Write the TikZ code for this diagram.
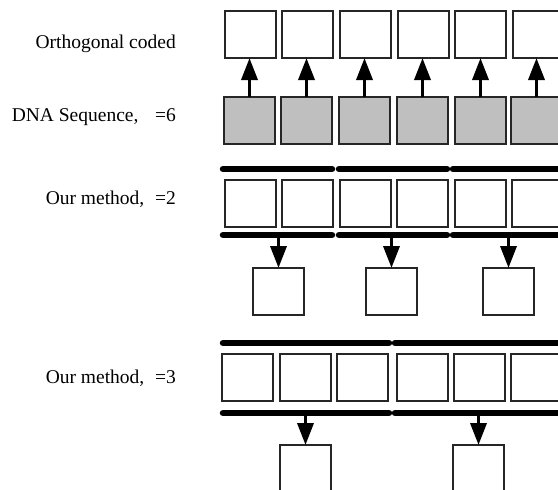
\documentclass[tikz,border=0pt]{standalone}
\usepackage{fontspec}
\setmainfont{Liberation Serif}
\usetikzlibrary{arrows.meta}
\tikzset{
  box/.style={draw=black!85, line width=1.1pt, minimum width=51pt, minimum height=47pt, inner sep=0pt, outer sep=0pt, anchor=north west},
  wbox/.style={box, fill=white},
  gbox/.style={box, fill=black!25},
  bar/.style={line width=6.5pt, line cap=round, black},
  uparrow/.style={line width=3.5pt, -{Triangle[length=22pt,width=16pt]}},
  lab/.style={anchor=base east, inner sep=0pt, font=\fontsize{19.5pt}{22pt}\selectfont}
}
\begin{document}
\begin{tikzpicture}[x=1pt,y=-1pt]
\useasboundingbox (0,0) rectangle (558,490);
% labels
\node[lab] (t1) at (176,48) {Orthogonal coded};
\node[lab] (t2) at (176,121) {DNA Sequence,\hspace{0.85em}=6};
\node[lab] (t3) at (176,204) {Our method,\hspace{0.55em}=2};
\node[lab] (t4) at (176,383) {Our method,\hspace{0.55em}=3};
% row 1 and 2
\foreach \i/\x/\g in {1/225/224,2/282/281,3/340/339,4/398/397,5/455/455,6/513/511}{
  \node[wbox] (o\i) at (\x,11) {};
  \node[gbox] (g\i) at (\g,97) {};
  \draw[uparrow] (g\i.north) -- (g\i.north |- o\i.south);
}
% row 3
\foreach \i/\x in {1/225,2/282,3/340,4/397,5/455,6/512}{
  \node[wbox] (m\i) at (\x,180) {};
}
\coordinate (a1) at (223,169); \coordinate (a2) at (332,169);
\coordinate (a3) at (339,169); \coordinate (a4) at (447,169);
\coordinate (a5) at (453,169); \coordinate (a6) at (600,169);
\draw[bar] (a1) -- (a2); \draw[bar] (a3) -- (a4); \draw[bar] (a5) -- (a6);
\coordinate (c1) at (223,235); \coordinate (c2) at (332,235);
\coordinate (c3) at (339,235); \coordinate (c4) at (447,235);
\coordinate (c5) at (453,235); \coordinate (c6) at (600,235);
\draw[bar] (c1) -- (c2); \draw[bar] (c3) -- (c4); \draw[bar] (c5) -- (c6);
\node[wbox] (s1) at (253,268) {};
\node[wbox] (s2) at (366,268) {};
\node[wbox] (s3) at (483,268) {};
\foreach \i in {1,2,3}{
  \coordinate (d\i) at (s\i.north |- 0,236);
  \draw[uparrow] (d\i) -- (s\i.north);
}
% row 4
\foreach \i/\x in {1/222,2/280,3/337,4/397,5/454,6/511}{
  \node[wbox] (n\i) at (\x,354) {};
}
\coordinate (e1) at (223,343); \coordinate (e2) at (389,343);
\coordinate (e3) at (395,343); \coordinate (e4) at (600,343);
\draw[bar] (e1) -- (e2); \draw[bar] (e3) -- (e4);
\coordinate (f1) at (223,413); \coordinate (f2) at (389,413);
\coordinate (f3) at (395,413); \coordinate (f4) at (600,413);
\draw[bar] (f1) -- (f2); \draw[bar] (f3) -- (f4);
\node[wbox] (u1) at (280,445) {};
\node[wbox] (u2) at (453,445) {};
\foreach \i in {1,2}{
  \coordinate (h\i) at (u\i.north |- 0,414);
  \draw[uparrow] (h\i) -- (u\i.north);
}
\end{tikzpicture}
\end{document}
